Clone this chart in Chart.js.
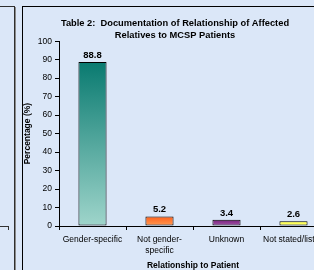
<!DOCTYPE html>
<html>
<head>
<meta charset="utf-8">
<script src="https://cdn.jsdelivr.net/npm/chart.js@4.4.0/dist/chart.umd.min.js"></script>
<style>
    html, body { margin: 0; padding: 0; }
    body { width: 314px; height: 270px; overflow: hidden; position: relative; background: #dbe7f8; }
    .side-panel { position: absolute; left: -10px; top: 6px; width: 23px; height: 300px; border: 1px solid #2e2e2e; box-shadow: 1px 1px 0 #8a8a8a; }
    .side-axis { position: absolute; left: 0; top: 226px; width: 9px; height: 0; border-top: 1px solid #333; }
    .side-tick { position: absolute; left: 8px; top: 226px; width: 1px; height: 4px; background: #333; }
    .main-panel { position: absolute; left: 22px; top: 6px; width: 400px; height: 400px; border-left: 1px solid #000; border-top: 1px solid #000; }
    #chart { position: absolute; left: 0; top: 0; }
</style>
</head>
<body>
<div class="side-panel"></div>
<div class="side-axis"></div>
<div class="side-tick"></div>
<div class="main-panel"></div>
<canvas id="chart" width="340" height="270"></canvas>
<script>
const categories = [["Gender-specific"], ["Not gender-", "specific"], ["Unknown"], ["Not stated/listed"]]
const percentages = [88.8, 5.2, 3.4, 2.6]
const yMin = 0
const yMax = 100
const yStep = 10

// gradient colours per bar, top -> bottom
const topColors = ["#097a70", "#ff5e18", "#76207c", "#ffff20"]
const bottomColors = ["#9fd5cb", "#ff9c55", "#a458aa", "#ffff90"]

const FONT = "'Liberation Sans', Arial, sans-serif"

function barFill(context) {
    const chart = context.chart
    const i = context.dataIndex
    if (!chart.chartArea || i === undefined) return topColors[0]
    const y = chart.scales.y
    const top = y.getPixelForValue(context.raw)
    const bottom = y.getPixelForValue(0)
    const g = chart.ctx.createLinearGradient(0, top, 0, bottom)
    g.addColorStop(0, topColors[i])
    g.addColorStop(1, bottomColors[i])
    return g
}

// draws the value above each bar
const valueLabels = {
    id: "valueLabels",
    afterDatasetsDraw(chart) {
        const c = chart.ctx
        const meta = chart.getDatasetMeta(0)
        c.save()
        c.font = "bold 9.5px " + FONT
        c.fillStyle = "#000"
        c.textAlign = "center"
        c.textBaseline = "bottom"
        meta.data.forEach((bar, i) => {
            c.fillText(percentages[i].toFixed(1), bar.x, bar.y - 2)
        })
        c.restore()
    }
}

new Chart(document.getElementById("chart"), {
    type: "bar",
    data: {
        labels: categories,
        datasets: [{
            data: percentages,
            backgroundColor: barFill,
            borderColor: "#000",
            borderWidth: 1,
            borderSkipped: false,
            categoryPercentage: 1,
            barPercentage: 0.42
        }]
    },
    options: {
        responsive: false,
        animation: false,
        layout: { padding: { left: 23, right: 13, top: 17, bottom: 0 } },
        plugins: {
            legend: { display: false },
            tooltip: { enabled: false },
            title: {
                display: true,
                text: ["Table 2:  Documentation of Relationship of Affected", "Relatives to MCSP Patients"],
                color: "#000",
                font: { family: FONT, size: 9.3, weight: "bold", lineHeight: 1.3 },
                padding: 0
            }
        },
        scales: {
            x: {
                offset: true,
                grid: { display: true, drawOnChartArea: false, drawTicks: true, tickLength: 4, color: "#000", offset: true },
                border: { display: true, color: "#000", width: 1 },
                ticks: { color: "#000", font: { family: FONT, size: 8.5, lineHeight: 1.3 }, padding: 4, maxRotation: 0, autoSkip: false },
                title: {
                    display: true,
                    text: "Relationship to Patient",
                    color: "#000",
                    font: { family: FONT, size: 8.5, weight: "bold", lineHeight: 1 },
                    padding: 0
                },
                afterFit(scale) { scale.height = 44 }
            },
            y: {
                min: yMin,
                max: yMax,
                grid: { display: true, drawOnChartArea: false, drawTicks: true, tickLength: 4, color: "#000" },
                border: { display: true, color: "#000", width: 1 },
                ticks: { stepSize: yStep, color: "#000", font: { family: FONT, size: 8.5 }, padding: 3 },
                title: {
                    display: true,
                    text: "Percentage (%)",
                    color: "#000",
                    font: { family: FONT, size: 8.5, weight: "bold", lineHeight: 1.2 },
                    padding: 0
                },
                afterFit(scale) { scale.width = 36 }
            }
        }
    },
    plugins: [valueLabels]
})
</script>
</body>
</html>
